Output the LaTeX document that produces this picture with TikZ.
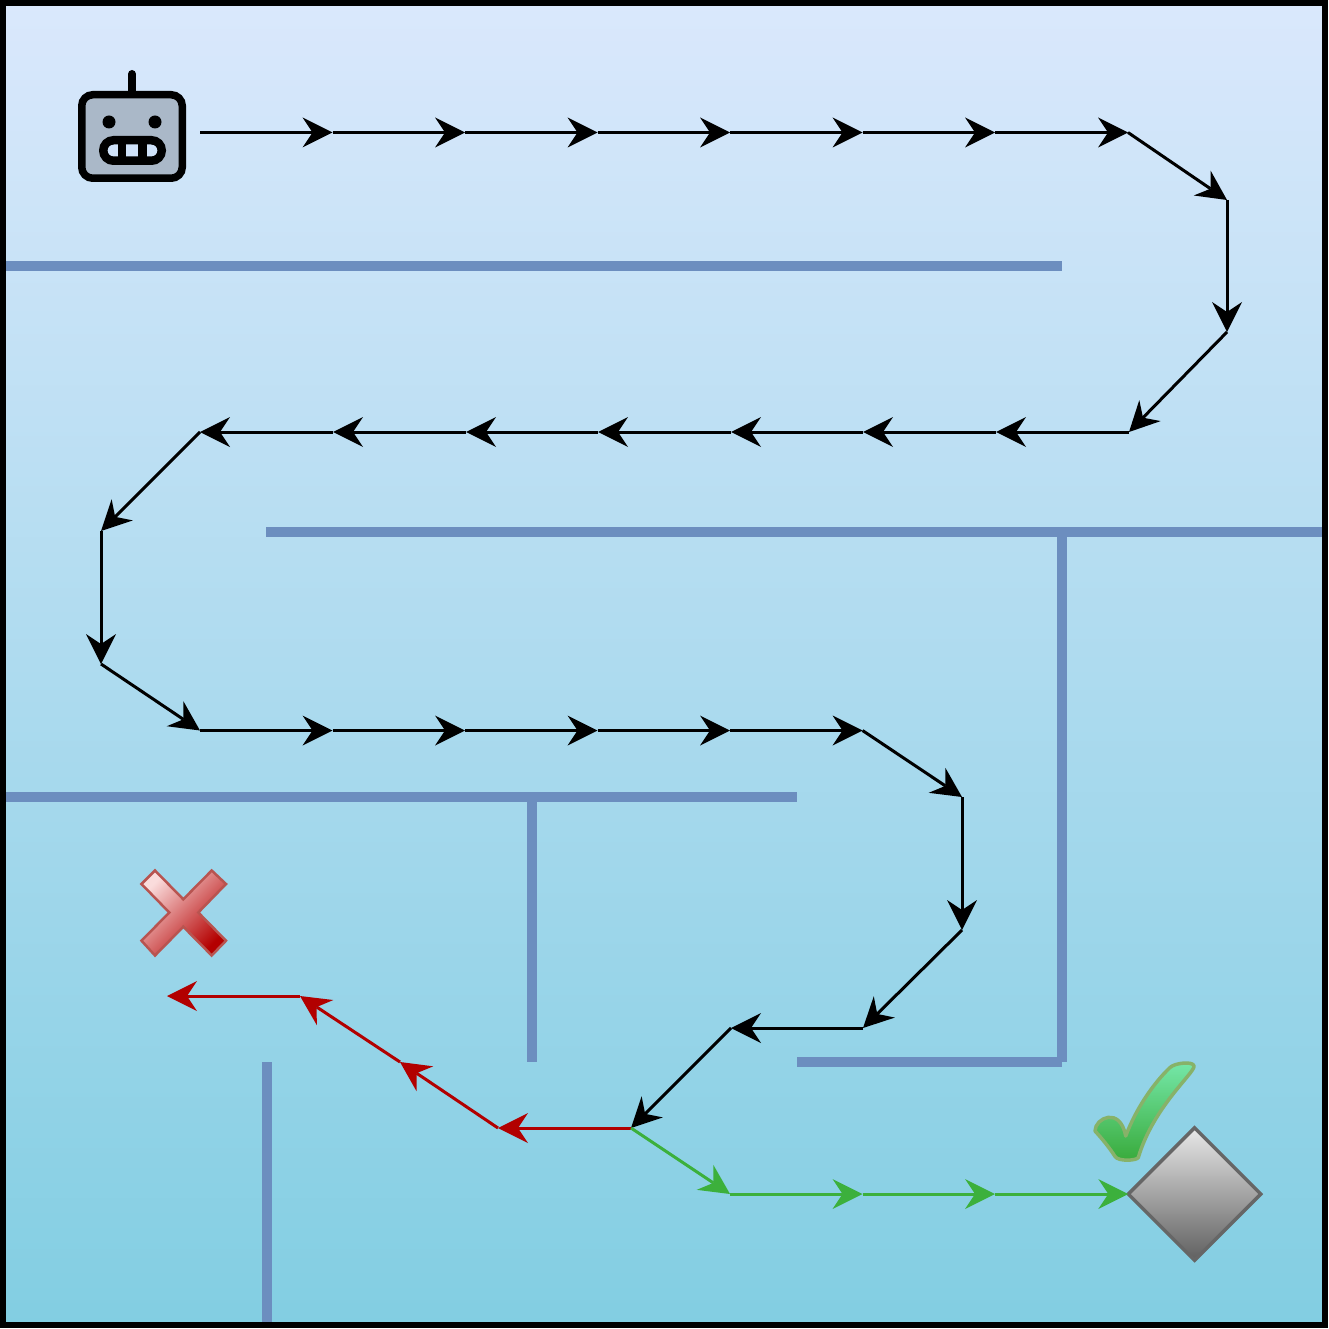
\documentclass[tikz,border=0pt]{standalone}
\usetikzlibrary{arrows.meta,shapes.geometric}
\definecolor{wallc}{HTML}{6C8EBF}
\definecolor{redc}{HTML}{B20000}
\definecolor{greenc}{HTML}{3CB03C}
\definecolor{bgtop}{RGB}{218,232,252}
\definecolor{bgbot}{RGB}{130,206,226}
\definecolor{robotc}{RGB}{170,184,200}
\definecolor{holec}{RGB}{208,227,250}
\definecolor{goalline}{RGB}{102,102,102}
\definecolor{goaltop}{RGB}{232,232,232}
\definecolor{goalbot}{RGB}{96,96,96}
\definecolor{checkline}{RGB}{135,178,105}
\definecolor{checktop}{RGB}{118,232,170}
\definecolor{checkbot}{RGB}{56,170,58}
\definecolor{crossline}{RGB}{184,84,80}
\definecolor{crosstop}{RGB}{250,220,220}
\definecolor{crossbot}{RGB}{180,0,0}
\tikzset{
 x=1pt,y=-1pt,
 wall/.style={draw=wallc,line width=10pt},
 hop/.style={line width=3pt,-{Stealth[length=30pt,width=30pt,inset=10pt,line width=0pt]}},
 blackhop/.style={hop,draw=black},
 redhop/.style={hop,draw=redc},
 greenhop/.style={hop,draw=greenc},
}
\begin{document}
\begin{tikzpicture}
\useasboundingbox (0,0) rectangle (1328,1329);
\shade[top color=bgtop,bottom color=bgbot] (3,3) rectangle (1325,1325);
% walls
\coordinate (w1a) at (5,266.5);\coordinate (w1b) at (1062,266.5);
\coordinate (w2a) at (266,531.5);\coordinate (w2b) at (1323,531.5);
\coordinate (w3a) at (1062,531.5);\coordinate (w3b) at (1062,1062);
\coordinate (w4a) at (797,1062);\coordinate (w4b) at (1062,1062);
\coordinate (w5a) at (5,796.5);\coordinate (w5b) at (797,796.5);
\coordinate (w6a) at (531.5,797);\coordinate (w6b) at (531.5,1062);
\coordinate (w7a) at (266.5,1062);\coordinate (w7b) at (266.5,1323);
\foreach \n in {1,...,7}{\draw[wall] (w\n a) -- (w\n b);}
% robot
\draw[line width=8pt,line cap=round] (132,74) -- (132,92);
\draw[line width=7.5pt,fill=robotc,rounded corners=11pt] (81.75,94.75) rectangle (182.25,178.25);
\fill (109,122) circle (6.5);
\fill (155,122) circle (6.5);
\draw[line width=8.5pt,fill=holec,rounded corners=10.2pt] (103.25,140.25) rectangle (161.75,160.75);
\fill (118,143) rectangle (126,158);
\fill (138,143) rectangle (147,158);
% target
\node[diamond,aspect=1,draw=goalline,line width=3.5pt,inner sep=0pt,outer sep=0pt,minimum width=132.5pt,minimum height=132.5pt,top color=goaltop,bottom color=goalbot] (goal) at (1194.5,1194) {};
% check
\draw[line width=3.5pt,line join=round,draw=checkline,top color=checktop,bottom color=checkbot]
 (1125.7,1136) .. controls (1136.7,1106.7) and (1155,1081.7) .. (1170,1067.5)
 .. controls (1175,1062.7) and (1193.3,1061) .. (1194,1066)
 .. controls (1195,1072.7) and (1153.3,1106.7) .. (1138.3,1157.5)
 .. controls (1136.7,1160.7) and (1118.3,1161.7) .. (1115,1156.5)
 .. controls (1110,1148.3) and (1101.7,1138.3) .. (1095,1131)
 .. controls (1095,1118) and (1120,1106) .. (1125.7,1136) -- cycle;
% cross
\draw[line width=2.5pt,draw=crossline,top color=crosstop,bottom color=crossbot,shading angle=45]
 (141.5,884) -- (155,870.5) -- (183.3,899.3) -- (211.7,870.5) -- (226,884) -- (198.3,912.5) -- (226,940.7) -- (211.7,955.5) -- (183.3,926.7) -- (155,955.5) -- (141.5,940.7) -- (169.3,912.5) -- cycle;
% route points
\coordinate (a0) at (200,132.5);\coordinate (a1) at (332.5,132.5);\coordinate (a2) at (465,132.5);\coordinate (a3) at (597.5,132.5);\coordinate (a4) at (730,132.5);\coordinate (a5) at (862.5,132.5);\coordinate (a6) at (995,132.5);\coordinate (a7) at (1128,132.5);
\coordinate (a8) at (1227,200);\coordinate (a9) at (1227,332);\coordinate (a10) at (1129,432);
\coordinate (a11) at (996,432);\coordinate (a12) at (863,432);\coordinate (a13) at (731,432);\coordinate (a14) at (598,432);\coordinate (a15) at (466,432);\coordinate (a16) at (333,432);\coordinate (a17) at (200,432);
\coordinate (a18) at (101,531);\coordinate (a19) at (101,664);\coordinate (a20) at (200,730.5);
\coordinate (a21) at (332.5,730.5);\coordinate (a22) at (465,730.5);\coordinate (a23) at (597.5,730.5);\coordinate (a24) at (730,730.5);\coordinate (a25) at (862.5,730.5);
\coordinate (a26) at (962,797);\coordinate (a27) at (962,930);\coordinate (a28) at (863,1028);\coordinate (a29) at (731,1028);\coordinate (a30) at (631,1128);
\coordinate (r1) at (498,1128);\coordinate (r2) at (400,1062);\coordinate (r3) at (300,996);\coordinate (r4) at (167,996);
\coordinate (g1) at (730,1194);\coordinate (g2) at (862.5,1194);\coordinate (g3) at (995,1194);
\foreach \i [remember=\i as \p (initially 0)] in {1,...,30}{\draw[blackhop] (a\p) -- (a\i);}
\draw[redhop] (a30) -- (r1);
\draw[redhop] (r1) -- (r2);
\draw[redhop] (r2) -- (r3);
\draw[redhop] (r3) -- (r4);
\draw[greenhop] (a30) -- (g1);
\draw[greenhop] (g1) -- (g2);
\draw[greenhop] (g2) -- (g3);
\draw[greenhop] (g3) -- (goal.west);
% frame
\draw[line width=6pt] (3,3) rectangle (1325,1325);
\end{tikzpicture}
\end{document}
